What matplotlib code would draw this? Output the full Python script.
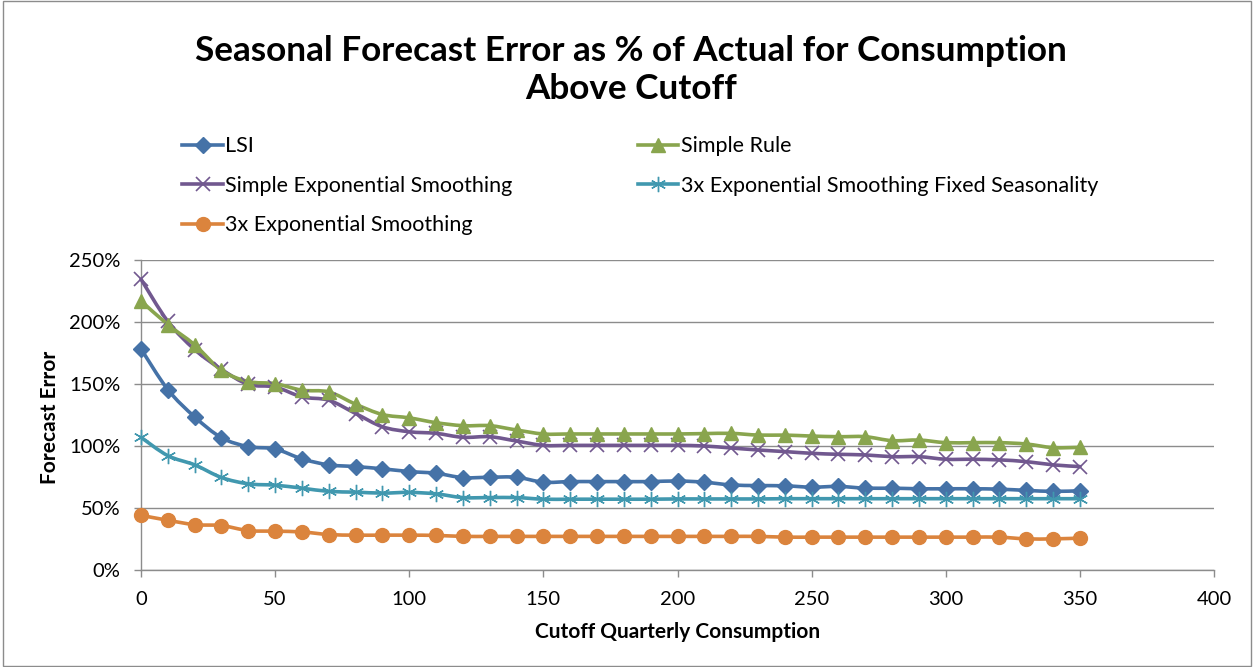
import matplotlib
matplotlib.use("Agg")
import matplotlib.pyplot as plt
from matplotlib.ticker import FuncFormatter
from matplotlib.path import Path
from matplotlib.patches import PathPatch
from matplotlib.lines import Line2D

x = list(range(0, 351, 10))

lsi = [178.3, 145.5, 123.5, 106.7, 99.5, 97.6, 89.6, 84.8, 83.4, 81.6, 79.4,
       78.0, 74.5, 74.8, 74.8, 70.8, 71.3, 71.3, 71.3, 71.3, 71.8, 70.8, 68.6, 68.1, 67.9,
       66.8, 67.4, 66.0, 66.0, 65.5, 65.5, 65.5, 65.2, 64.2, 63.4, 63.9]
simple_rule = [217.0, 197.9, 181.6, 161.0, 152.0, 150.3, 145.0, 143.6, 133.7, 125.4, 122.7,
               118.8, 116.4, 116.4, 112.9, 109.7, 109.7, 109.7, 109.7, 109.7, 109.7, 110.0, 110.2, 108.8, 108.8,
               108.0, 107.5, 107.5, 104.3, 104.8, 102.7, 102.7, 102.7, 101.6, 98.7, 98.9]
simple_exp = [234.5, 200.5, 177.8, 161.8, 149.7, 147.6, 139.6, 136.9, 126.2, 115.5, 111.5,
              110.2, 107.0, 107.5, 104.0, 100.5, 100.5, 100.5, 100.5, 100.5, 100.5, 100.0, 98.4, 96.8, 95.5,
              94.1, 93.3, 92.8, 91.4, 91.4, 89.3, 89.3, 88.8, 87.4, 84.8, 83.4]
exp3_fixed = [107.0, 92.2, 84.8, 74.6, 69.5, 68.4, 66.0, 63.4, 62.8, 62.0, 62.6,
              61.4, 58.4, 58.4, 58.4, 57.1, 57.1, 57.1, 57.1, 57.1, 57.3, 57.3, 57.3, 57.3, 57.5,
              57.5, 57.5, 57.5, 57.5, 57.5, 57.5, 57.5, 57.5, 57.5, 57.5, 57.5]
exp3 = [44.1, 40.1, 36.6, 35.8, 31.8, 31.3, 30.7, 28.6, 28.1, 28.1, 28.1,
        27.9, 27.1, 27.1, 27.1, 27.1, 27.1, 27.1, 27.1, 27.1, 27.1, 27.1, 27.1, 27.1, 26.5,
        26.5, 26.5, 26.5, 26.5, 26.5, 26.5, 26.5, 26.5, 25.1, 25.1, 25.7]

title = "Seasonal Forecast Error as % of Actual for Consumption\nAbove Cutoff"
xlabel = "Cutoff Quarterly Consumption"
ylabel = "Forecast Error"

plt.rcParams['font.family'] = ['Lato', 'DejaVu Sans']

W, H = 1254, 667
fig = plt.figure(figsize=(W / 100, H / 100), dpi=100)
ax = fig.add_axes([141 / W, 1 - 570 / H, (1214 - 141) / W, (570 - 260) / H])


def smooth_path(xs, ys):
    # Excel-style smoothed line (Catmull-Rom as cubic Bezier)
    verts = [(xs[0], ys[0])]
    codes = [Path.MOVETO]
    n = len(xs)
    for i in range(n - 1):
        p0 = (xs[max(i - 1, 0)], ys[max(i - 1, 0)])
        p1 = (xs[i], ys[i])
        p2 = (xs[i + 1], ys[i + 1])
        p3 = (xs[min(i + 2, n - 1)], ys[min(i + 2, n - 1)])
        c1 = (p1[0] + (p2[0] - p0[0]) / 6, p1[1] + (p2[1] - p0[1]) / 6)
        c2 = (p2[0] - (p3[0] - p1[0]) / 6, p2[1] - (p3[1] - p1[1]) / 6)
        verts += [c1, c2, p2]
        codes += [Path.CURVE4] * 3
    return Path(verts, codes)


series = [
    ("LSI", lsi, "#4572A7", "D", 8, 1.0),
    ("Simple Exponential Smoothing", simple_exp, "#71588F", "x", 10, 1.2),
    ("3x Exponential Smoothing", exp3, "#DB843D", "o", 10, 1.0),
    ("Simple Rule", simple_rule, "#89A54E", "^", 10, 1.0),
    ("3x Exponential Smoothing Fixed Seasonality", exp3_fixed, "#4198AF", (6, 2, 0), 11, 1.0),
]
handles = [None] * len(series)
for idx, (name, vals, col, mk, ms, mew) in enumerate(series):
    lw = 2.6
    patch = PathPatch(smooth_path(x, vals), facecolor='none', edgecolor=col, lw=lw,
                      capstyle='round', joinstyle='round', clip_on=False, zorder=3)
    ax.add_patch(patch)
    ax.plot(x, vals, linestyle='none', marker=mk, markersize=ms, markeredgewidth=mew,
            markerfacecolor=col, markeredgecolor=col, clip_on=False, zorder=4)
    handles[idx] = Line2D([], [], color=col, lw=lw, marker=mk, markersize=ms,
                          markeredgewidth=mew, markerfacecolor=col, markeredgecolor=col,
                          label=name)

ax.set_xlim(0, 400)
ax.set_ylim(0, 250)
ax.set_xticks(range(0, 401, 50))
ax.set_yticks(range(0, 251, 50))
ax.yaxis.set_major_formatter(FuncFormatter(lambda v, p: f"{int(v)}%"))
ax.grid(axis='y', color='#8c8c8c', lw=1)
ax.set_axisbelow(True)
for s in ['top', 'right']:
    ax.spines[s].set_visible(False)
for s in ['left', 'bottom']:
    ax.spines[s].set_color('#8c8c8c')
    ax.spines[s].set_linewidth(1)
ax.tick_params(axis='both', colors='#8c8c8c', labelcolor='black', labelsize=14.5,
               length=5, width=1)
ax.tick_params(axis='y', pad=10)
ax.tick_params(axis='x', pad=10)
ax.set_xlabel(xlabel, fontsize=15, fontweight='bold')
ax.set_ylabel(ylabel, fontsize=15, fontweight='bold')
ax.xaxis.set_label_coords(0.5, (570 - 632) / 310)
ax.yaxis.set_label_coords((50 - 141) / (1214 - 141), (570 - 417) / 310)
ax.xaxis.label.set_va('center')
ax.yaxis.label.set_va('center')

fig.text(631 / W, 1 - 70 / H, title, ha='center', va='center', fontsize=25.3,
         fontweight='bold', linespacing=1.25)

fig.legend(handles=handles, loc='upper left', bbox_to_anchor=(163 / W, 1 - 117 / H),
           ncol=2, frameon=False, fontsize=15.5, columnspacing=5.8,
           handlelength=1.9, handletextpad=0.1, labelspacing=0.9)

border = plt.Rectangle((0.002, 0.002), 0.996, 0.996, transform=fig.transFigure,
                       fill=False, edgecolor='#8c8c8c', lw=1)
fig.patches.append(border)

fig.savefig("out.png", dpi=100)
